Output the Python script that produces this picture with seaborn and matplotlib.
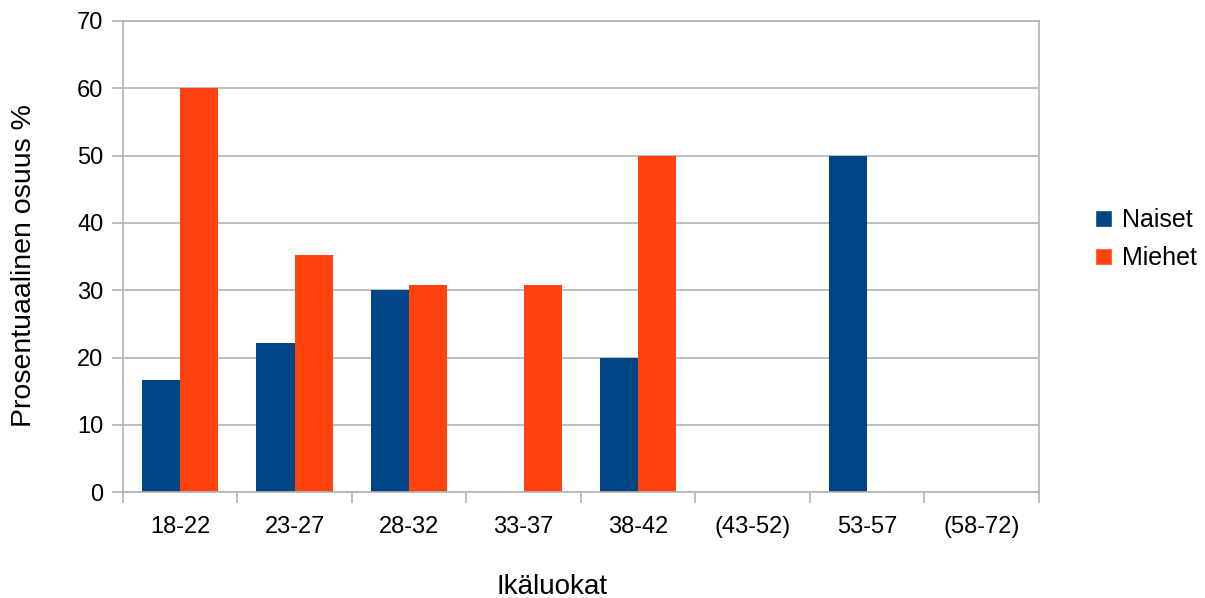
import pandas as pd
import seaborn as sns
import matplotlib.pyplot as plt
from matplotlib.patches import Patch

# chart data
ika_luokat = ['18-22', '23-27', '28-32', '33-37', '38-42',
              '(43-52)', '53-57', '(58-72)']
naiset = [16.7, 22.2, 30.0, 0, 20.0, 0, 50.0, 0]
miehet = [60.0, 35.3, 30.8, 30.8, 50.0, 0, 0, 0]
sarjat = ['Naiset', 'Miehet']
varit = ['#004586', '#ff420e']
y_ticks = [0, 10, 20, 30, 40, 50, 60, 70]

sns.set_style('white')
plt.rcParams['font.family'] = ['Liberation Sans', 'DejaVu Sans']
plt.rcParams['text.color'] = 'black'
plt.rcParams['axes.labelcolor'] = 'black'
plt.rcParams['xtick.labelcolor'] = 'black'
plt.rcParams['ytick.labelcolor'] = 'black'

df = pd.DataFrame({
    'Ikäluokat': ika_luokat * 2,
    'Osuus': naiset + miehet,
    'Sarja': ['Naiset'] * len(ika_luokat) + ['Miehet'] * len(ika_luokat),
})

fig = plt.figure(figsize=(12.05, 5.98), dpi=100)
ax = fig.add_axes([0.102, 0.177, 0.76, 0.788])

sns.barplot(data=df, x='Ikäluokat', y='Osuus', hue='Sarja',
            hue_order=sarjat, palette=varit, width=0.67, gap=0,
            saturation=1, linewidth=0, errorbar=None, legend=False, ax=ax)

grid_col = '#b3b3b3'
ax.set_ylim(0, 70)
ax.set_xlim(-0.5, len(ika_luokat) - 0.5)
ax.set_yticks(y_ticks)
ax.yaxis.grid(True, color=grid_col, linewidth=1.2)
ax.set_axisbelow(True)
for s in ax.spines.values():
    s.set_color(grid_col)
    s.set_linewidth(1.2)

ax.tick_params(axis='y', length=8, width=1.2, color=grid_col, pad=6,
               labelsize=17, left=True)
ax.tick_params(axis='x', which='major', length=0, pad=17, labelsize=17)
ax.set_xticks([i - 0.5 for i in range(len(ika_luokat) + 1)], minor=True)
ax.tick_params(axis='x', which='minor', length=8, width=1.2,
               color=grid_col, bottom=True)

ax.set_xlabel('Ikäluokat', fontsize=20, labelpad=26)
ax.set_ylabel('Prosentuaalinen osuus %', fontsize=20.5, labelpad=29)
ax.xaxis.label.set_x(0.469)
ax.yaxis.label.set_y(0.48)

handles = [Patch(facecolor=c, label=l) for c, l in zip(varit, sarjat)]
fig.legend(handles=handles, loc='center left', bbox_to_anchor=(0.89, 0.6),
           frameon=False, fontsize=18, handlelength=0.7, handleheight=0.7,
           handletextpad=0.4, labelspacing=0.55)

fig.savefig('out.png', dpi=100)
